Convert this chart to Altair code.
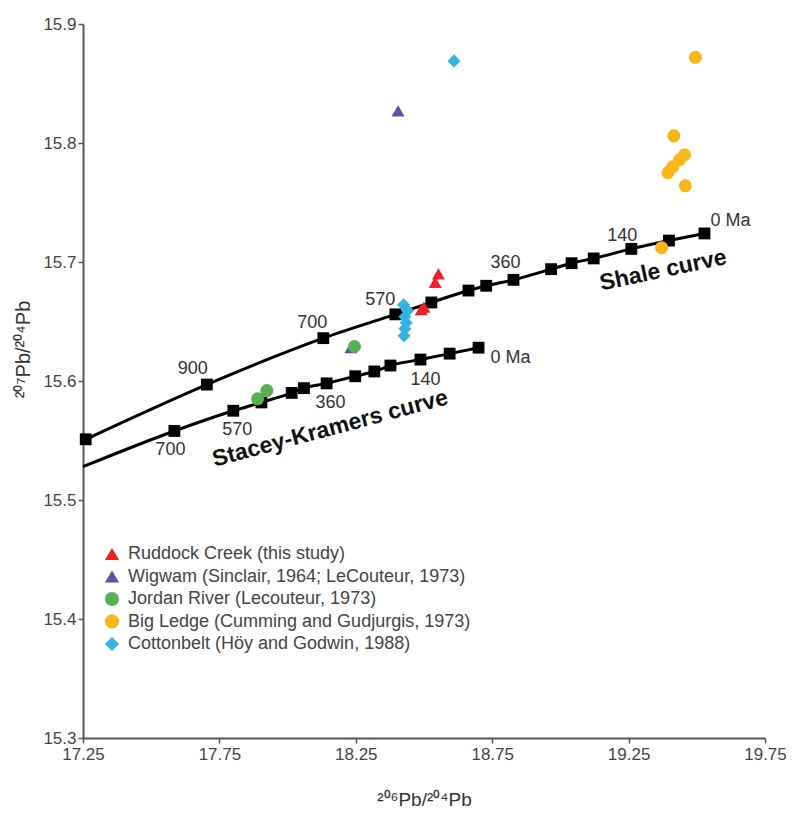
import altair as alt
import pandas as pd

# ---------------- data ----------------
x_ticks = [17.25, 17.75, 18.25, 18.75, 19.25, 19.75]
y_ticks = [15.3, 15.4, 15.5, 15.6, 15.7, 15.8, 15.9]

# Shale curve model points
shale_x = [17.26, 17.704, 18.131, 18.395, 18.527, 18.663, 18.728, 18.828, 18.966, 19.041, 19.122, 19.260, 19.398, 19.528]
shale_y = [15.551, 15.597, 15.636, 15.656, 15.666, 15.676, 15.680, 15.685, 15.694, 15.699, 15.703, 15.711, 15.718, 15.724]
shale_ages = ["", "900", "700", "570", "", "", "", "360", "", "", "", "140", "", "0 Ma"]

# Stacey-Kramers curve (line start + model points)
sk_line_start = (17.25, 15.528)
sk_x = [17.585, 17.801, 17.904, 18.015, 18.060, 18.143, 18.248, 18.318, 18.377, 18.487, 18.594, 18.700]
sk_y = [15.558, 15.575, 15.582, 15.590, 15.594, 15.598, 15.604, 15.608, 15.613, 15.618, 15.623, 15.628]
sk_ages = ["700", "570", "", "", "", "360", "", "", "", "140", "", "0 Ma"]

series = [
    "Ruddock Creek (this study)",
    "Wigwam (Sinclair, 1964; LeCouteur, 1973)",
    "Jordan River (Lecouteur, 1973)",
    "Big Ledge (Cumming and Gudjurgis, 1973)",
    "Cottonbelt (Höy and Godwin, 1988)",
]
ruddock_x = [18.49, 18.50, 18.541, 18.553]
ruddock_y = [15.660, 15.662, 15.683, 15.690]
wigwam_x = [18.405, 18.232]
wigwam_y = [15.827, 15.628]
jordan_x = [17.89, 17.924, 18.245]
jordan_y = [15.585, 15.592, 15.629]
bigledge_x = [19.495, 19.416, 19.455, 19.437, 19.412, 19.394, 19.458, 19.371]
bigledge_y = [15.872, 15.806, 15.790, 15.786, 15.780, 15.775, 15.764, 15.712]
cotton_x = [18.61, 18.425, 18.44, 18.43, 18.435, 18.43, 18.427]
cotton_y = [15.869, 15.664, 15.659, 15.654, 15.649, 15.644, 15.638]

curve_names = ["Shale curve", "Stacey-Kramers curve"]
curve_name_x = [19.377, 18.156]
curve_name_y = [15.693, 15.560]

# ---------------- styles ----------------
colors = ["#EC2227", "#6A4C9C", "#56B153", "#FBB618", "#35B3E3"]
shapes = ["triangle-up", "triangle-up", "circle", "circle", "diamond"]
FONT = "Liberation Sans, Arial, sans-serif"
# pixel offsets for age labels (dx, dy), keyed by index in the curve arrays
shale_offsets = {1: (-14, -16), 2: (-11, -15), 3: (-15, -14), 7: (-8, -17), 11: (-9, -13), 13: (6, -12)}
sk_offsets = {0: (-4, 19), 1: (4, 19), 5: (4, 20), 9: (5, 20), 11: (12, 10)}
name_angles = [348, 345]

# ---------------- tables ----------------
line_rows = []
for i, (xv, yv) in enumerate(zip(shale_x, shale_y)):
    line_rows.append({"curve": "shale", "x": xv, "y": yv, "order": i})
line_rows.append({"curve": "sk", "x": sk_line_start[0], "y": sk_line_start[1], "order": 0})
for i, (xv, yv) in enumerate(zip(sk_x, sk_y)):
    line_rows.append({"curve": "sk", "x": xv, "y": yv, "order": i + 1})
lines_df = pd.DataFrame(line_rows)

squares_df = pd.DataFrame({"x": shale_x + sk_x, "y": shale_y + sk_y})

pt_rows = []
for name, xs, ys in [
    (series[1], wigwam_x, wigwam_y),
    (series[4], cotton_x, cotton_y),
    (series[0], ruddock_x, ruddock_y),
    (series[2], jordan_x, jordan_y),
    (series[3], bigledge_x, bigledge_y),
]:
    for xv, yv in zip(xs, ys):
        pt_rows.append({"series": name, "x": xv, "y": yv})
pts_df = pd.DataFrame(pt_rows)

# ---------------- encodings ----------------
X = alt.X(
    "x:Q",
    scale=alt.Scale(domain=[17.25, 19.75], nice=False, zero=False),
    axis=alt.Axis(
        values=x_ticks, format=".2f", grid=False,
        title="²⁰⁶Pb/²⁰⁴Pb", titleY=61, titleBaseline="middle",
        titleFont=FONT, titleFontSize=19, titleFontWeight="normal", titleColor="#333",
        labelFont=FONT, labelFontSize=17, labelColor="#444", labelPadding=3,
        domainColor="#555", domainWidth=2, tickColor="#555", tickWidth=1.5, tickSize=5,
        labelFlush=False,
    ),
)
Y = alt.Y(
    "y:Q",
    scale=alt.Scale(domain=[15.3, 15.9], nice=False, zero=False),
    axis=alt.Axis(
        values=y_ticks, format=".1f", grid=False,
        title="²⁰⁷Pb/²⁰⁴Pb", titleX=-60, titleY=325, titleAngle=270,
        titleAlign="center", titleBaseline="middle",
        titleFont=FONT, titleFontSize=20, titleFontWeight="normal", titleColor="#333",
        labelFont=FONT, labelFontSize=17, labelColor="#444", labelPadding=2,
        domainColor="#555", domainWidth=2, tickColor="#555", tickWidth=1.5, tickSize=5,
        labelFlush=False,
    ),
)

lines = alt.Chart(lines_df).mark_line(color="black", strokeWidth=3, interpolate="monotone").encode(
    x=X, y=Y, detail="curve:N", order="order:Q"
)
squares = alt.Chart(squares_df).mark_square(color="black", size=140, opacity=1).encode(x=X, y=Y)

legend = alt.Legend(
    orient="none", legendX=20, legendY=521, title=None,
    labelFont=FONT, labelFontSize=18, labelColor="#444",
    symbolSize=200, rowPadding=4.5, labelOffset=7, padding=0,
    symbolStrokeWidth=0, symbolOpacity=1, labelLimit=500,
)
points = alt.Chart(pts_df).mark_point(filled=True, opacity=1, size=170, strokeWidth=0).encode(
    x=X, y=Y,
    color=alt.Color("series:N", scale=alt.Scale(domain=series, range=colors), legend=legend),
    shape=alt.Shape("series:N", scale=alt.Scale(domain=series, range=shapes), legend=legend),
)

text_layers = []
for idx, (dx, dy) in shale_offsets.items():
    d = pd.DataFrame({"x": [shale_x[idx]], "y": [shale_y[idx]], "t": [shale_ages[idx]]})
    text_layers.append(
        alt.Chart(d).mark_text(
            dx=dx, dy=dy, font=FONT, fontSize=18, color="#333",
            align="left" if shale_ages[idx] == "0 Ma" else "center", baseline="middle",
        ).encode(x=X, y=Y, text="t:N")
    )
for idx, (dx, dy) in sk_offsets.items():
    d = pd.DataFrame({"x": [sk_x[idx]], "y": [sk_y[idx]], "t": [sk_ages[idx]]})
    text_layers.append(
        alt.Chart(d).mark_text(
            dx=dx, dy=dy, font=FONT, fontSize=18, color="#333",
            align="left" if sk_ages[idx] == "0 Ma" else "center", baseline="middle",
        ).encode(x=X, y=Y, text="t:N")
    )
for name, xv, yv, ang in zip(curve_names, curve_name_x, curve_name_y, name_angles):
    d = pd.DataFrame({"x": [xv], "y": [yv], "t": [name]})
    text_layers.append(
        alt.Chart(d).mark_text(
            font=FONT, fontSize=23, fontWeight="bold", color="#111", angle=ang,
            align="center", baseline="middle",
        ).encode(x=X, y=Y, text="t:N")
    )

chart = alt.layer(lines, squares, points, *text_layers).properties(
    width=682, height=714,
    autosize=alt.AutoSizeParams(type="none"),
    padding={"left": 75, "top": 16, "right": 21, "bottom": 70},
    background="white",
).configure_view(stroke="transparent")

chart.save("out.html", embed_options={"renderer": "svg", "actions": False})
